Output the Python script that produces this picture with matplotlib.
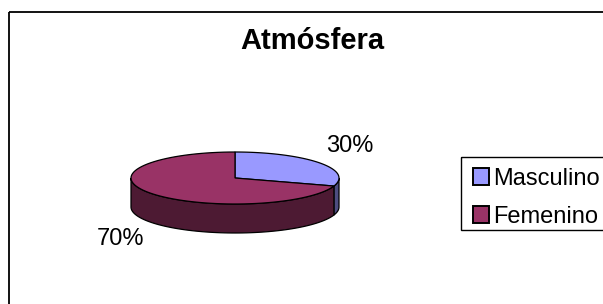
import numpy as np
import matplotlib.pyplot as plt
from matplotlib.patches import Polygon, Rectangle, Patch

plt.rcParams['font.family'] = ['Liberation Sans', 'DejaVu Sans']

# data
title = 'Atmósfera'
categories = ['Masculino', 'Femenino']
values = [30, 70]
top_colors = ['#9999FF', '#993366']
side_colors = ['#4D4D80', '#4D1A33']

fig = plt.figure(figsize=(6.03, 3.04), dpi=100)
ax = fig.add_axes([0, 0, 1, 1])
ax.set_xlim(0, 603)
ax.set_ylim(304, 0)
ax.axis('off')

# chart frame (runs off the right/bottom edge like the original)
ax.add_patch(Rectangle((8.5, 11.5), 700, 400, fill=False, ec='black', lw=1.3))

ax.text(312, 41, title, ha='center', va='center', fontsize=21, fontweight='bold')

# 3D pie geometry (pixel layout)
cx, cy, rx, ry, depth = 235, 178, 104, 26, 29


def arc(a, b, dy=0, n=80):
    t = np.radians(np.linspace(a, b, n))
    return np.column_stack([cx + rx * np.cos(t), cy - ry * np.sin(t) + dy])


fracs = np.array(values) / sum(values)
bounds = []
start = 90.0
for f in fracs:
    end = start - 360 * f
    bounds.append((end, start))
    start = end

# sides (front half only)
for (a, b), col in zip(bounds, side_colors):
    for k in range(-3, 2):
        lo = max(a, 180 + 360 * k)
        hi = min(b, 360 + 360 * k)
        if hi > lo:
            top = arc(lo, hi)
            bot = arc(hi, lo, dy=depth)
            ax.add_patch(Polygon(np.vstack([top, bot]), closed=True,
                                 fc=col, ec='black', lw=0.9))

# top faces
for (a, b), col in zip(bounds, top_colors):
    pts = np.vstack([[cx, cy], arc(a, b)])
    ax.add_patch(Polygon(pts, closed=True, fc=col, ec='black', lw=0.9))

# percentage labels
for (a, b), v in zip(bounds, values):
    mid = np.radians((a + b) / 2)
    lx = cx + 1.36 * rx * np.cos(mid)
    ly = cy - 2.1 * ry * np.sin(mid) + (depth if np.sin(mid) < 0 else 0)
    ax.text(lx, ly, f'{v}%', ha='center', va='center', fontsize=17)

# legend
ax.add_patch(Rectangle((460.5, 156.5), 300, 73, fill=False, ec='black', lw=1.0))
handles = [Patch(fc=c, ec='black', lw=1.4) for c in top_colors]
fig.legend(handles, categories, loc='upper left',
           bbox_to_anchor=(461 / 603, (304 - 156) / 304),
           bbox_transform=fig.transFigure, frameon=False, fontsize=17,
           borderaxespad=0, borderpad=0.5, handlelength=0.68, handleheight=0.68,
           handletextpad=0.2, labelspacing=0.68)

fig.savefig('out.png', dpi=100)
